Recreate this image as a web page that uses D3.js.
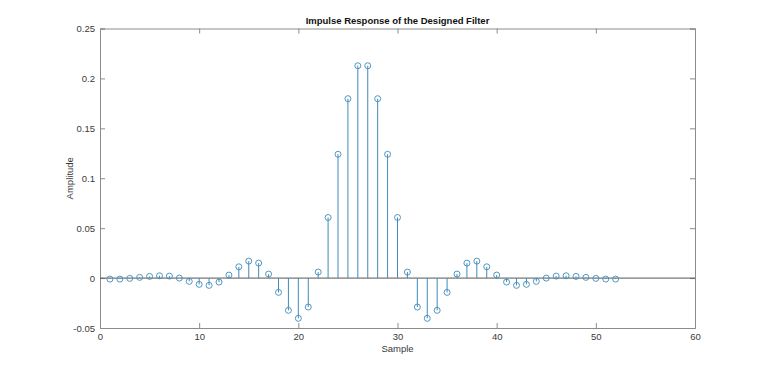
<!DOCTYPE html>
<html>
<head>
<meta charset="utf-8">
<script src="https://cdn.jsdelivr.net/npm/d3@7"></script>
<style>
  body { margin: 0; background: #fff; }
  text { font-family: "Liberation Sans", Arial, sans-serif; }
</style>
</head>
<body>
<script>
// Stem plot of the filter taps (MATLAB-like look)
const WIDTH  = 768;
const HEIGHT = 369;

const samples = d3.range(1, 53);
const amplitude = [
  -0.001, -0.001, -0.0003, 0.0007, 0.0017, 0.0023, 0.002, 0.0,
  -0.0033, -0.0063, -0.0073, -0.004, 0.003, 0.0113, 0.017, 0.015,
  0.004, -0.0143, -0.0323, -0.0403, -0.029, 0.006, 0.0607, 0.124,
  0.1797, 0.2127, 0.2127, 0.1797, 0.124, 0.0607, 0.006, -0.029,
  -0.0403, -0.0323, -0.0143, 0.004, 0.015, 0.017, 0.0113, 0.003,
  -0.004, -0.0073, -0.0063, -0.0033, 0.0, 0.002, 0.0023, 0.0017,
  0.0007, -0.0003, -0.001, -0.001
];
const xTicks = [0, 10, 20, 30, 40, 50, 60];
const yTicks = [-0.05, 0, 0.05, 0.1, 0.15, 0.2, 0.25];

const margin = {left: 100, right: 73, top: 28.5, bottom: 41};
const iw = WIDTH - margin.left - margin.right;
const ih = HEIGHT - margin.top - margin.bottom;

const STEM = '#3f8bbb';
const AXIS = '#8c8c8c';
const LABEL = '#3a3a3a';

const svg = d3.select('body').append('svg')
    .attr('width', WIDTH)
    .attr('height', HEIGHT);

const g = svg.append('g')
    .attr('transform', `translate(${margin.left},${margin.top})`);

const x = d3.scaleLinear().domain([0, 60]).range([0, iw]);
const y = d3.scaleLinear().domain([-0.05, 0.25]).range([ih, 0]);

const fmt = d => d === 0 ? '0' : String(+d.toFixed(2));

// bottom / top axes (ticks pointing inward)
const xb = g.append('g')
    .attr('transform', `translate(0,${ih})`)
    .call(d3.axisBottom(x).tickValues(xTicks).tickSize(-5).tickPadding(5).tickFormat(fmt));
const xt = g.append('g')
    .call(d3.axisTop(x).tickValues(xTicks).tickSize(-5).tickFormat(''));
const yl = g.append('g')
    .call(d3.axisLeft(y).tickValues(yTicks).tickSize(-5).tickPadding(5).tickFormat(fmt));
const yr = g.append('g')
    .attr('transform', `translate(${iw},0)`)
    .call(d3.axisRight(y).tickValues(yTicks).tickSize(-5).tickFormat(''));

[xb, xt, yl, yr].forEach(a => {
  a.select('.domain').attr('stroke', AXIS).attr('stroke-width', 1);
  a.selectAll('.tick line').attr('stroke', AXIS);
  a.selectAll('.tick text')
    .attr('fill', LABEL)
    .style('font-size', '9.5px');
});
yl.selectAll('.tick text').attr('dy', '0.35em');

// baseline at zero
g.append('line')
    .attr('x1', 0).attr('x2', iw)
    .attr('y1', y(0)).attr('y2', y(0))
    .attr('stroke', '#555')
    .attr('stroke-width', 1);

// stems
g.selectAll('line.stem')
    .data(samples)
    .enter()
  .append('line')
    .attr('class', 'stem')
    .attr('x1', d => x(d)).attr('x2', d => x(d))
    .attr('y1', y(0))
    .attr('y2', (d, i) => y(amplitude[i]))
    .attr('stroke', STEM)
    .attr('stroke-width', 1);

// markers
g.selectAll('circle')
    .data(samples)
    .enter()
  .append('circle')
    .attr('cx', d => x(d))
    .attr('cy', (d, i) => y(amplitude[i]))
    .attr('r', 3)
    .attr('fill', 'none')
    .attr('stroke', STEM)
    .attr('stroke-width', 0.9);

// title and axis labels
svg.append('text')
    .attr('x', margin.left + iw / 2)
    .attr('y', 24)
    .attr('text-anchor', 'middle')
    .style('font-size', '9.5px')
    .style('font-weight', 'bold')
    .attr('fill', '#111')
    .text('Impulse Response of the Designed Filter');

svg.append('text')
    .attr('x', margin.left + iw / 2)
    .attr('y', 352)
    .attr('text-anchor', 'middle')
    .style('font-size', '9.5px')
    .attr('fill', LABEL)
    .text('Sample');

svg.append('text')
    .attr('transform', `translate(73,${margin.top + ih / 2}) rotate(-90)`)
    .attr('text-anchor', 'middle')
    .style('font-size', '9.5px')
    .attr('fill', LABEL)
    .text('Amplitude');
</script>
</body>
</html>
